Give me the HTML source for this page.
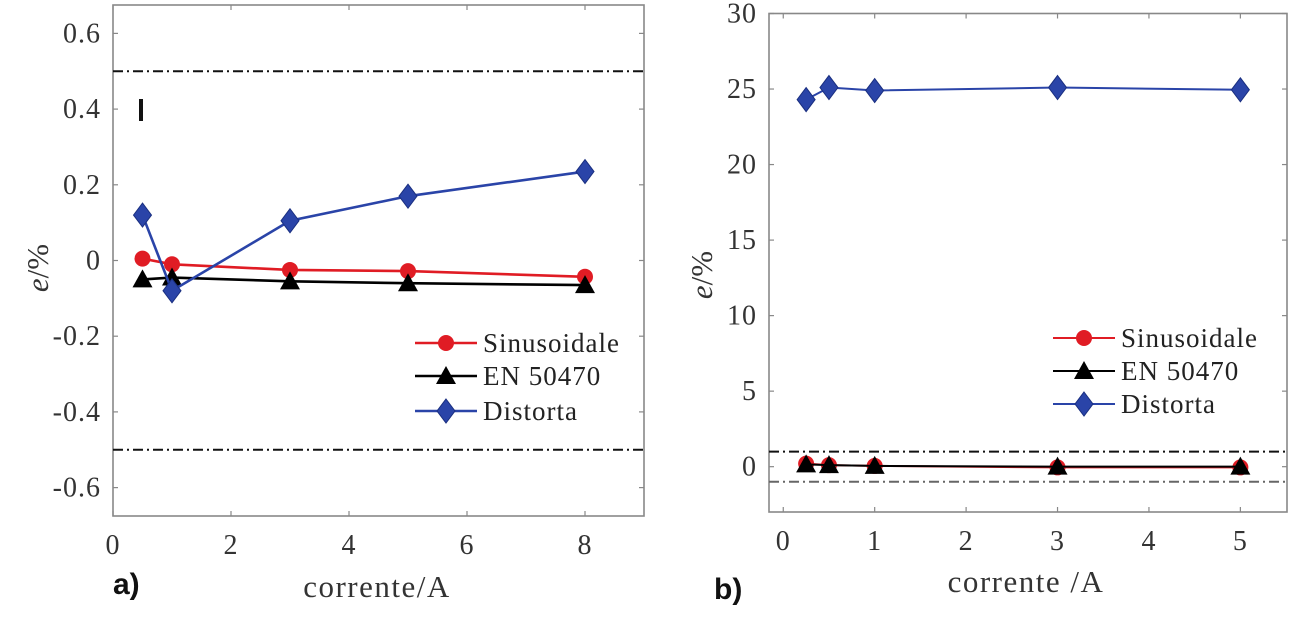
<!DOCTYPE html>
<html><head><meta charset="utf-8"><style>
html,body{margin:0;padding:0;background:#fff;}
svg{display:block;font-family:"Liberation Serif",serif;}
</style></head><body>
<svg id="root" width="1299" height="622" viewBox="0 0 1299 622" xmlns="http://www.w3.org/2000/svg">
<g id="pa"></g>
<g id="pb"></g>
<text x="113" y="594" font-family="Liberation Sans,sans-serif" font-weight="bold" font-size="30" fill="#111">a)</text>
<text x="714" y="599" font-family="Liberation Sans,sans-serif" font-weight="bold" font-size="30" fill="#111">b)</text>
<rect x="139" y="99" width="4" height="22" fill="#111"/>
</svg>
<script>
const xA=[0.5,1,3,5,8];
const sinA=[0.005,-0.01,-0.025,-0.028,-0.043];
const enA=[-0.05,-0.045,-0.055,-0.06,-0.065];
const disA=[0.12,-0.08,0.105,0.17,0.235];
const xTicksA=[0,2,4,6,8];
const yTicksA=[-0.6,-0.4,-0.2,0,0.2,0.4,0.6];
const yTickLabelsA=["-0.6","-0.4","-0.2","0","0.2","0.4","0.6"];
const limA=[0.5,-0.5];

const xB=[0.25,0.5,1,3,5];
const sinB=[0.2,0.1,0.05,-0.05,-0.05];
const enB=[0.15,0.1,0.05,0,0];
const disB=[24.3,25.1,24.9,25.1,24.95];
const xTicksB=[0,1,2,3,4,5];
const yTicksB=[0,5,10,15,20,25,30];
const yTickLabelsB=["0","5","10","15","20","25","30"];
const limB=[1,-1];

const NS="http://www.w3.org/2000/svg";
function mk(p,t,a){const e=document.createElementNS(NS,t);for(const k in a)e.setAttribute(k,a[k]);p.appendChild(e);return e;}

function panel(g,cfg){
  const sx=v=>cfg.L+(v-cfg.x0)/(cfg.x1-cfg.x0)*(cfg.R-cfg.L);
  const sy=v=>cfg.B-(v-cfg.y0)/(cfg.y1-cfg.y0)*(cfg.B-cfg.T);
  const box=mk(g,'rect',{x:cfg.L,y:cfg.T,width:cfg.R-cfg.L,height:cfg.B-cfg.T,fill:'none',stroke:'#888','stroke-width':1.6});
  
  
  cfg.xt.forEach(v=>{
    const x=sx(v);
    mk(g,'line',{x1:x,x2:x,y1:cfg.B,y2:cfg.B-5,stroke:'#888','stroke-width':1.2});
    mk(g,'line',{x1:x,x2:x,y1:cfg.T,y2:cfg.T+5,stroke:'#888','stroke-width':1.2});
    const t=mk(g,'text',{x:x,y:cfg.B+38,'text-anchor':'middle','font-size':28,fill:'#333','letter-spacing':1});
    t.textContent=String(v);
    
    
  });
  cfg.yt.forEach((v,i)=>{
    const y=sy(v);
    mk(g,'line',{x1:cfg.L,x2:cfg.L+5,y1:y,y2:y,stroke:'#888','stroke-width':1.2});
    mk(g,'line',{x1:cfg.R,x2:cfg.R-5,y1:y,y2:y,stroke:'#888','stroke-width':1.2});
    const t=mk(g,'text',{x:cfg.L-12,y:y+9,'text-anchor':'end','font-size':28,fill:'#333','letter-spacing':1});
    t.textContent=cfg.ytl[i];
    
    
  });
  cfg.lim.forEach((v,i)=>{
    const l=mk(g,'line',{x1:cfg.L,x2:cfg.R,y1:sy(v),y2:sy(v),stroke:i==1&&cfg.grey?'#666':'#111','stroke-width':2,'stroke-dasharray':'10,4,2,4'});
    
    
  });
  const series=[
    {ys:cfg.sin,c:'#e01c24',m:'circle',n:'sinusoidale'},
    {ys:cfg.en,c:'#000',m:'tri',n:'en-50470'},
    {ys:cfg.dis,c:'#2a44a8',m:'diamond',n:'distorta'}];
  function marker(p,m,x,y,c){
    if(m==='circle')return mk(p,'circle',{cx:x,cy:y,r:8,fill:c});
    if(m==='tri')return mk(p,'polygon',{points:`${x},${y-10} ${x-10},${y+8} ${x+10},${y+8}`,fill:c});
    return mk(p,'polygon',{points:`${x},${y-12} ${x+9},${y} ${x},${y+12} ${x-9},${y}`,fill:c,stroke:'#1a2f80','stroke-width':1});
  }
  series.forEach(s=>{
    const sg=mk(g,'g',{});
    
    
    const pts=cfg.xs.map((x,i)=>sx(x)+','+sy(s.ys[i])).join(' ');
    mk(sg,'polyline',{points:pts,fill:'none',stroke:s.c,'stroke-width':cfg.lw});
    cfg.xs.forEach((x,i)=>{
      const mm=marker(sg,s.m,sx(x),sy(s.ys[i]),s.c);
      
      
    });
  });
  const lg=mk(g,'g',{});
  
  
  const labels=['Sinusoidale','EN 50470','Distorta'];
  series.forEach((s,i)=>{
    const y=cfg.legY[i];
    const e=mk(lg,'g',{});
    
    
    mk(e,'line',{x1:cfg.legX,x2:cfg.legX+62,y1:y,y2:y,stroke:s.c,'stroke-width':cfg.lw});
    marker(e,s.m,cfg.legX+31,y,s.c);
    const t=mk(e,'text',{x:cfg.legX+68,y:y+9,'font-size':27,fill:'#222','letter-spacing':1});
    t.textContent=labels[i];
  });
  const xl=mk(g,'text',{x:cfg.xlX,y:cfg.xlY,'text-anchor':'middle','font-size':31,fill:'#333','letter-spacing':1.5});
  xl.textContent=cfg.xlabel;
  
  
  const yl=mk(g,'text',{x:0,y:0,'text-anchor':'middle','font-size':31,fill:'#333',transform:`translate(${cfg.ylX},${cfg.ylY}) rotate(-90)`});
  yl.innerHTML='<tspan font-style="italic">e</tspan>/%';
  
  
}
panel(document.getElementById('pa'),{L:113,R:644,T:5,B:516,x0:0,x1:9,y0:-0.675,y1:0.675,
  xs:xA,sin:sinA,en:enA,dis:disA,xt:xTicksA,yt:yTicksA,ytl:yTickLabelsA,lim:limA,grey:false,lw:2.6,
  legX:415,legY:[343,376,411],xlabel:'corrente/A',xlX:377,xlY:597,ylX:48,ylY:268});
panel(document.getElementById('pb'),{L:769,R:1287,T:13.5,B:512,x0:-0.156,x1:5.51,y0:-3,y1:30,
  xs:xB,sin:sinB,en:enB,dis:disB,xt:xTicksB,yt:yTicksB,ytl:yTickLabelsB,lim:limB,grey:true,lw:2,
  legX:1053,legY:[338,371,404],xlabel:'corrente /A',xlX:1026,xlY:592,ylX:712,ylY:275});
</script>
</body></html>
